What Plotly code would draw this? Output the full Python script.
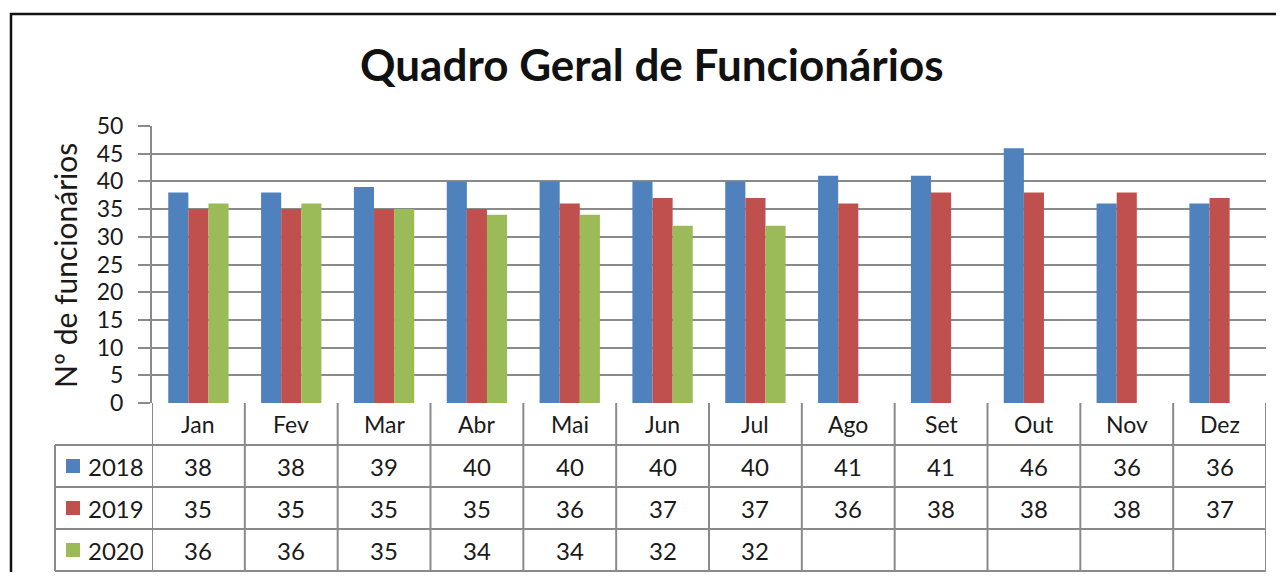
import plotly.graph_objects as go

months = ["Jan", "Fev", "Mar", "Abr", "Mai", "Jun", "Jul", "Ago", "Set", "Out", "Nov", "Dez"]
series_names = ["2018", "2019", "2020"]
v2018 = [38, 38, 39, 40, 40, 40, 40, 41, 41, 46, 36, 36]
v2019 = [35, 35, 35, 35, 36, 37, 37, 36, 38, 38, 38, 37]
v2020 = [36, 36, 35, 34, 34, 32, 32, None, None, None, None, None]
colors = ["#4F81BD", "#C0504D", "#9BBB59"]
y_ticks = [0, 5, 10, 15, 20, 25, 30, 35, 40, 45, 50]

series = [v2018, v2019, v2020]

OFF = 8  # default body margin of the html page
W, H = 1284 - 2 * OFF, 580 - 2 * OFF
# page-pixel coordinates of the plot area
L, R, T, B = 152, 1266, 126, 403
PW, PH = R - L, B - T


def px(x):
    return (x - L) / PW


def py(y):
    return (B - y) / PH


FONT = "Lato, 'Open Sans', sans-serif"
GRID = "#8a8a8a"
TXT = "#1a1a1a"

fig = go.Figure()
for name, vals, col in zip(series_names, series, colors):
    fig.add_trace(go.Bar(x=months, y=vals, name=name, marker=dict(color=col, line=dict(width=0)),
                         showlegend=False))

shapes = []
annotations = []


def ann(**kw):
    kw.setdefault("showarrow", False)
    kw.setdefault("xanchor", "center")
    kw.setdefault("yanchor", "middle")
    annotations.append(kw)


rows_y = [403, 445, 487, 529, 571]
shapes.append(dict(type="line", xref="x", yref="paper", x0=-0.5, x1=11.5, y0=py(445), y1=py(445),
                   line=dict(color=GRID, width=2)))
for yy in rows_y[1:]:
    shapes.append(dict(type="line", xref="paper", yref="paper", x0=px(55), x1=1.0, y0=py(yy), y1=py(yy),
                       line=dict(color=GRID, width=2)))
for i in range(len(months) + 1):
    shapes.append(dict(type="line", xref="x", yref="paper", x0=i - 0.5, x1=i - 0.5, y0=py(403), y1=py(571),
                       line=dict(color=GRID, width=2)))
shapes.append(dict(type="line", xref="paper", yref="paper", x0=px(55), x1=px(55), y0=py(445), y1=py(571),
                   line=dict(color=GRID, width=2)))

for m in months:
    ann(x=m, y=py(424), xref="x", yref="paper", text=m, font=dict(family=FONT, size=23, color=TXT))
for r, (name, vals, col) in enumerate(zip(series_names, series, colors)):
    cy = (rows_y[r + 1] + rows_y[r + 2]) / 2
    for m, v in zip(months, vals):
        if v is None:
            continue
        ann(x=m, y=py(cy), xref="x", yref="paper", text=str(v), font=dict(family=FONT, size=24, color=TXT))
    shapes.append(dict(type="rect", xref="paper", yref="paper", x0=px(66), x1=px(80), y0=py(cy - 7),
                       y1=py(cy + 7), fillcolor=col, line=dict(width=0)))
    ann(x=px(116), y=py(cy), xref="paper", yref="paper", text=name, font=dict(family=FONT, size=24, color=TXT))

# outer chart border (right and bottom edges lie outside the picture)
shapes.append(dict(type="rect", xref="paper", yref="paper", x0=px(11), x1=px(1320), y0=py(14), y1=py(620),
                   line=dict(color="#111", width=2.5), fillcolor="rgba(0,0,0,0)"))

ann(x=px(65), y=py(266), xref="paper", yref="paper", text="Nº de funcionários", textangle=-90,
    font=dict(family=FONT, size=30, color=TXT))
ann(x=px(652), y=py(64), xref="paper", yref="paper", text="<b>Quadro Geral de Funcionários</b>",
    font=dict(family=FONT, size=44, color="#111"))

fig.update_layout(
    width=W, height=H,
    margin=dict(l=L - OFF, r=W + OFF - R, t=T - OFF, b=H + OFF - B, pad=0),
    paper_bgcolor="white", plot_bgcolor="white",
    barmode="group", bargap=0.35, bargroupgap=0,
    shapes=shapes, annotations=annotations,
    font=dict(family=FONT, color=TXT),
)
fig.update_xaxes(range=[-0.5, 11.5], showticklabels=False, ticks="", showgrid=False, showline=False,
                 zeroline=False)
fig.update_yaxes(range=[0, 50], tickvals=y_ticks, showgrid=True, gridcolor=GRID, gridwidth=2,
                 showline=True, linecolor=GRID, linewidth=2, ticks="outside", ticklen=12, tickcolor=GRID,
                 tickwidth=2, zeroline=False, tickfont=dict(family=FONT, size=23, color=TXT),
                 ticklabelstandoff=10)

fig.write_html("out.html")
